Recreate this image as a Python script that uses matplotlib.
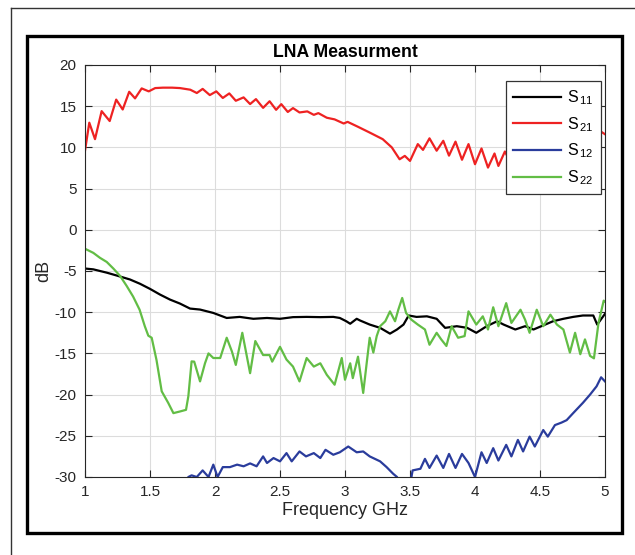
import matplotlib
matplotlib.use("Agg")
import matplotlib.pyplot as plt
from matplotlib.lines import Line2D
from matplotlib.patches import Rectangle

plt.rcParams["font.family"] = ["Liberation Sans", "DejaVu Sans"]
plt.rcParams["axes.unicode_minus"] = False

# S21 (gain)
s21_f = [1.00, 1.033, 1.077, 1.128, 1.19, 1.24, 1.29, 1.34, 1.385, 1.436, 1.49, 1.54,
         1.60, 1.67, 1.73, 1.81, 1.86, 1.905, 1.96, 2.01, 2.06, 2.11, 2.16, 2.22, 2.27,
         2.315, 2.37, 2.42, 2.47, 2.51, 2.56, 2.60, 2.65, 2.71, 2.76, 2.795, 2.86, 2.92,
         2.99, 3.02, 3.10, 3.19, 3.29, 3.36, 3.42, 3.46, 3.50, 3.56, 3.60, 3.65, 3.705,
         3.756, 3.80, 3.85, 3.90, 3.95, 4.00, 4.05, 4.10, 4.15, 4.18, 4.23, 4.28, 4.33,
         4.38, 4.43, 4.48, 4.53, 4.58, 4.63, 4.68, 4.73, 4.80, 4.885, 4.93, 4.97, 5.00]
s21_db = [9.6, 13.0, 11.0, 14.4, 13.2, 15.8, 14.6, 16.75, 15.95, 17.16, 16.8, 17.2,
          17.25, 17.25, 17.2, 17.0, 16.6, 17.1, 16.35, 16.8, 16.0, 16.55, 15.66, 16.07, 15.26,
          15.86, 14.8, 15.6, 14.56, 15.25, 14.3, 14.77, 14.24, 14.37, 13.95, 14.16, 13.6, 13.4,
          12.9, 13.1, 12.5, 11.8, 11.0, 10.0, 8.56, 8.97, 8.36, 10.4, 9.7, 11.1, 9.6,
          10.8, 9.0, 10.7, 8.5, 10.4, 7.96, 9.87, 7.55, 9.26, 7.75, 9.5, 8.0, 9.8,
          8.5, 10.0, 9.0, 10.3, 9.8, 10.6, 10.5, 11.0, 11.2, 11.3, 11.3, 11.9, 11.6]

# S11 (input return loss)
s11_f = [1.00, 1.064, 1.167, 1.244, 1.346, 1.423, 1.50, 1.577, 1.654, 1.73, 1.808, 1.885,
         1.987, 2.09, 2.19, 2.295, 2.40, 2.50, 2.60, 2.705, 2.81, 2.91, 2.96, 3.01, 3.04,
         3.09, 3.115, 3.19, 3.27, 3.346, 3.40, 3.45, 3.49, 3.55, 3.63, 3.705, 3.77, 3.86,
         3.94, 4.01, 4.09, 4.17, 4.22, 4.31, 4.385, 4.45, 4.525, 4.60, 4.68, 4.755, 4.83,
         4.91, 4.94, 5.00]
s11_db = [-4.7, -4.8, -5.2, -5.55, -6.03, -6.55, -7.17, -7.86, -8.47, -8.95, -9.56, -9.68,
          -10.09, -10.7, -10.57, -10.8, -10.7, -10.8, -10.6, -10.57, -10.6, -10.57, -10.7, -11.1, -11.4,
          -10.8, -11.0, -11.5, -11.9, -12.6, -12.1, -11.5, -10.4, -10.57, -10.5, -10.8, -11.9, -11.7,
          -11.9, -12.5, -11.7, -11.1, -11.5, -12.1, -11.7, -12.1, -11.6, -11.1, -10.8, -10.57, -10.4,
          -10.4, -11.5, -10.2]

# S12 (reverse isolation)
s12_f = [1.76, 1.795, 1.82, 1.86, 1.905, 1.95, 1.987, 2.02, 2.06, 2.115, 2.17, 2.22, 2.27,
         2.32, 2.37, 2.40, 2.45, 2.50, 2.55, 2.59, 2.65, 2.70, 2.76, 2.81, 2.85, 2.91,
         2.96, 3.025, 3.09, 3.14, 3.19, 3.27, 3.32, 3.37, 3.40, 3.44, 3.50, 3.52, 3.58,
         3.615, 3.65, 3.705, 3.756, 3.80, 3.85, 3.90, 3.95, 4.00, 4.05, 4.09, 4.14, 4.18,
         4.24, 4.28, 4.33, 4.37, 4.42, 4.46, 4.525, 4.56, 4.615, 4.665, 4.705, 4.755, 4.83,
         4.885, 4.935, 4.97, 5.00]
s12_db = [-31.0, -30.0, -29.8, -30.0, -29.2, -30.0, -28.5, -30.0, -28.8, -28.8, -28.5, -28.7, -28.35,
          -28.7, -27.5, -28.3, -27.7, -28.1, -27.1, -28.1, -26.9, -27.5, -27.1, -27.7, -26.7, -27.3,
          -27.0, -26.3, -27.0, -26.9, -27.5, -28.1, -28.8, -29.6, -30.0, -31.5, -31.0, -29.2, -29.0,
          -27.8, -28.9, -27.4, -28.9, -27.2, -28.9, -27.2, -28.3, -30.0, -27.0, -28.3, -26.5, -28.0,
          -26.1, -27.5, -25.5, -26.9, -25.1, -26.3, -24.3, -25.1, -23.7, -23.4, -23.1, -22.25, -21.0,
          -20.0, -19.0, -17.9, -18.4]

# S22 (output return loss)
s22_f = [1.00, 1.064, 1.115, 1.167, 1.218, 1.27, 1.32, 1.37, 1.42, 1.46, 1.487, 1.513,
         1.55, 1.59, 1.64, 1.68, 1.73, 1.777, 1.795, 1.82, 1.84, 1.885, 1.923, 1.95, 1.987,
         2.04, 2.09, 2.13, 2.16, 2.21, 2.27, 2.31, 2.37, 2.42, 2.44, 2.50, 2.55, 2.60,
         2.65, 2.705, 2.76, 2.81, 2.86, 2.92, 2.975, 3.00, 3.04, 3.06, 3.10, 3.14, 3.17,
         3.19, 3.218, 3.244, 3.27, 3.31, 3.346, 3.385, 3.41, 3.44, 3.47, 3.51, 3.56, 3.615,
         3.65, 3.705, 3.74, 3.78, 3.82, 3.87, 3.92, 3.95, 4.01, 4.06, 4.10, 4.14, 4.18,
         4.24, 4.28, 4.35, 4.385, 4.42, 4.475, 4.525, 4.58, 4.63, 4.68, 4.73, 4.77, 4.81,
         4.846, 4.885, 4.915, 4.95, 4.99, 5.00]
s22_db = [-2.3, -2.8, -3.4, -3.9, -4.7, -5.6, -6.8, -8.1, -9.7, -11.7, -12.85, -13.1,
          -15.8, -19.6, -21.0, -22.25, -22.05, -21.85, -20.2, -15.97, -16.0, -18.4, -16.2, -15.0, -15.56,
          -15.56, -13.1, -14.76, -16.4, -12.5, -17.4, -13.5, -15.2, -15.2, -16.0, -14.2, -15.75, -16.6,
          -18.4, -15.56, -16.6, -16.2, -17.6, -18.8, -15.56, -18.2, -16.2, -18.0, -15.4, -19.8, -15.75,
          -13.1, -14.9, -12.9, -11.7, -11.1, -9.9, -11.1, -9.7, -8.27, -10.1, -10.9, -11.5, -12.1,
          -13.95, -12.5, -13.3, -14.1, -11.7, -13.1, -12.9, -9.9, -11.5, -10.5, -12.1, -9.4, -11.7,
          -8.9, -11.3, -9.7, -10.9, -12.5, -9.7, -11.7, -10.3, -11.5, -12.1, -14.9, -12.5, -15.1,
          -13.3, -15.3, -15.6, -11.3, -8.6, -8.7]

fig = plt.figure(figsize=(6.35, 5.55), dpi=100)
ax = fig.add_axes([85 / 635, 1 - 477 / 555, 520 / 635, 412 / 555])

lw = 1.6
ax.plot(s11_f, s11_db, color="#000000", lw=lw, label=r"S$_{\,\mathregular{11}}$")
ax.plot(s21_f, s21_db, color="#ee2222", lw=lw, label=r"S$_{\,\mathregular{21}}$")
ax.plot(s12_f, s12_db, color="#2a3c9c", lw=lw, label=r"S$_{\,\mathregular{12}}$")
ax.plot(s22_f, s22_db, color="#62bd45", lw=lw, label=r"S$_{\,\mathregular{22}}$")

ax.set_xlim(1, 5)
ax.set_ylim(-30, 20)
ax.set_xticks([1, 1.5, 2, 2.5, 3, 3.5, 4, 4.5, 5])
ax.set_xticklabels(["1", "1.5", "2", "2.5", "3", "3.5", "4", "4.5", "5"])
ax.set_yticks(range(-30, 21, 5))
ax.grid(True, color="#dcdcdc", lw=0.8)
ax.set_axisbelow(True)
ax.tick_params(direction="in", top=True, right=True, length=5, width=0.8,
               labelsize=11, labelcolor="#262626", color="#262626", pad=6)
for sp in ax.spines.values():
    sp.set_color("#262626")
    sp.set_linewidth(0.8)

ax.set_title("LNA Measurment", fontsize=12.7, fontweight="bold", pad=5.5)
ax.set_xlabel("Frequency GHz", fontsize=13, color="#262626", labelpad=2)
ax.set_ylabel("dB", fontsize=13, color="#262626", labelpad=2)

leg = ax.legend(loc="upper right", bbox_to_anchor=(0.992, 0.961), borderaxespad=0,
                fontsize=11.5, fancybox=False, framealpha=1, edgecolor="#333333",
                handlelength=3.0, labelspacing=0.5, borderpad=0.45, handletextpad=0.4)
leg.get_frame().set_linewidth(0.9)

# outer frames around the figure
fig.patches.append(Rectangle((27 / 635, 1 - 533 / 555), 595 / 635, 497 / 555,
                             transform=fig.transFigure, fill=False,
                             edgecolor="#000000", lw=2.4))
fig.lines.append(Line2D([11 / 635, 1.0], [1 - 7.5 / 555, 1 - 7.5 / 555],
                        transform=fig.transFigure, color="#333333", lw=1.0))
fig.lines.append(Line2D([11 / 635, 11 / 635], [1 - 7.5 / 555, 0.0],
                        transform=fig.transFigure, color="#333333", lw=1.0))

fig.savefig("out.png", dpi=100)
